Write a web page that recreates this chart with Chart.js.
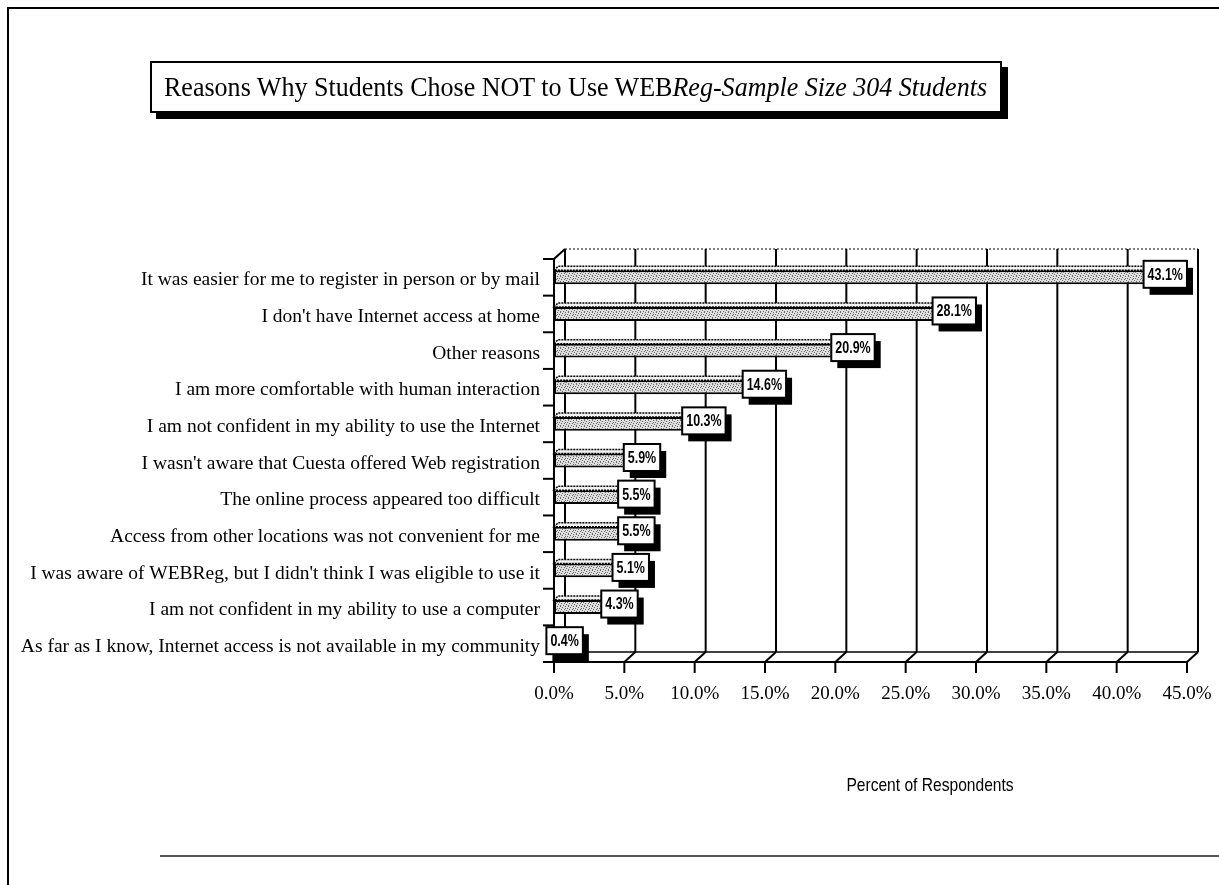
<!DOCTYPE html>
<html>
<head>
<meta charset="utf-8">
<script src="https://cdn.jsdelivr.net/npm/chart.js@4"></script>
<style>
  body { margin: 0; background: #fff; }
  #wrap { position: relative; width: 1219px; height: 885px; overflow: hidden; }
  #frameTop { position: absolute; left: 8px; top: 7px; width: 1211px; height: 0; border-top: 2px solid #000; }
  #frameLeft { position: absolute; left: 7px; top: 7px; width: 0; height: 878px; border-left: 2px solid #000; }
  #frameBottom { position: absolute; left: 160px; top: 855px; width: 1059px; height: 0; border-top: 2px solid #555; }
  #title {
    position: absolute; left: 150px; top: 61px; width: 848px; height: 48px;
    border: 2px solid #000; box-shadow: 6px 6px 0 #000; background: #fff;
    font-family: 'Liberation Serif', serif; font-size: 28px; line-height: 48px;
    text-align: center; white-space: nowrap;
  }
  #title span { display: inline-block; transform: scaleX(0.93); transform-origin: center; margin: 0 -40px; }
  canvas { position: absolute; left: 0; top: 0; }
</style>
</head>
<body>
<div id="wrap">
  <canvas id="chart" width="1219" height="885"></canvas>
  <div id="frameTop"></div>
  <div id="frameLeft"></div>
  <div id="frameBottom"></div>
  <div id="title"><span>Reasons Why Students Chose NOT to Use WEB<i>Reg-Sample Size 304 Students</i></span></div>
</div>
<script>
const reasons = [
	'It was easier for me to register in person or by mail',
	"I don't have Internet access at home",
	'Other reasons',
	'I am more comfortable with human interaction',
	'I am not confident in my ability to use the Internet',
	"I wasn't aware that Cuesta offered Web registration",
	'The online process appeared too difficult',
	'Access from other locations was not convenient for me',
	"I was aware of WEBReg, but I didn't think I was eligible to use it",
	'I am not confident in my ability to use a computer',
	'As far as I know, Internet access is not available in my community'
]
const percents = [43.1, 28.1, 20.9, 14.6, 10.3, 5.9, 5.5, 5.5, 5.1, 4.3, 0.4]
const axisMax = 45
const axisStep = 5
const axisTitle = 'Percent of Respondents'

const depthX = 11
const depthY = -10

// speckled grey fill like the old print pattern
function makePattern() {
	const c = document.createElement('canvas')
	c.width = 8
	c.height = 6
	const g = c.getContext('2d')
	g.fillStyle = '#dcdcdc'
	g.fillRect(0, 0, 8, 6)
	g.fillStyle = '#707070'
	const dots = [[0, 0], [2, 1], [5, 0], [7, 2], [1, 3], [4, 3], [6, 4], [3, 5], [0, 5], [5, 2]]
	dots.forEach(d => g.fillRect(d[0], d[1], 1, 1))
	return g.createPattern(c, 'repeat')
}

// draws condensed text by squeezing the canvas horizontally
function narrowText(ctx, text, x, y, squeeze) {
	ctx.save()
	ctx.translate(x, y)
	ctx.scale(squeeze, 1)
	ctx.fillText(text, 0, 0)
	ctx.restore()
}

const wallPlugin = {
	id: 'wall',
	beforeDatasetsDraw(chart) {
		const { ctx, chartArea, scales } = chart
		const x = scales.x
		const top = chartArea.top
		const bottom = chartArea.bottom
		ctx.save()
		ctx.strokeStyle = '#000'
		// back wall top edge (dotted)
		ctx.lineWidth = 1
		ctx.setLineDash([2, 2])
		ctx.beginPath()
		ctx.moveTo(x.getPixelForValue(0) + depthX, top + depthY)
		ctx.lineTo(x.getPixelForValue(axisMax) + depthX, top + depthY)
		ctx.stroke()
		ctx.setLineDash([])
		// back wall verticals
		ctx.lineWidth = 2
		for (let v = 0; v <= axisMax; v += axisStep) {
			const px = x.getPixelForValue(v)
			ctx.beginPath()
			ctx.moveTo(px + depthX, top + depthY)
			ctx.lineTo(px + depthX, bottom + depthY)
			ctx.stroke()
			// floor diagonals
			ctx.beginPath()
			ctx.moveTo(px, bottom)
			ctx.lineTo(px + depthX, bottom + depthY)
			ctx.stroke()
			// tick marks under the front edge
			ctx.beginPath()
			ctx.moveTo(px, bottom)
			ctx.lineTo(px, bottom + 11)
			ctx.stroke()
		}
		// floor back line and front line
		ctx.lineWidth = 1.5
		ctx.beginPath()
		ctx.moveTo(x.getPixelForValue(0) + depthX, bottom + depthY)
		ctx.lineTo(x.getPixelForValue(axisMax) + depthX, bottom + depthY)
		ctx.stroke()
		ctx.lineWidth = 2
		ctx.beginPath()
		ctx.moveTo(x.getPixelForValue(0), bottom)
		ctx.lineTo(x.getPixelForValue(axisMax), bottom)
		ctx.stroke()
		// left wall
		const lx = x.getPixelForValue(0)
		ctx.beginPath()
		ctx.moveTo(lx, bottom)
		ctx.lineTo(lx, top)
		ctx.lineTo(lx + depthX, top + depthY)
		ctx.stroke()
		// category tick stubs
		const band = (bottom - top) / reasons.length
		for (let i = 0; i <= reasons.length; i++) {
			const ty = top + band * i
			ctx.beginPath()
			ctx.moveTo(lx - 11, ty)
			ctx.lineTo(lx, ty)
			ctx.stroke()
		}
		ctx.restore()
	},
	afterDatasetsDraw(chart) {
		const { ctx } = chart
		const meta = chart.getDatasetMeta(0)
		ctx.save()
		// 3D top faces of the bars
		meta.data.forEach(bar => {
			const h = bar.height
			const yTop = bar.y - h / 2
			ctx.beginPath()
			ctx.moveTo(bar.base, yTop)
			ctx.lineTo(bar.base + 4, yTop - 4)
			ctx.lineTo(bar.x + 4, yTop - 4)
			ctx.lineTo(bar.x, yTop)
			ctx.closePath()
			ctx.fillStyle = '#f2f2f2'
			ctx.fill()
			ctx.lineWidth = 1.5
			ctx.strokeStyle = '#000'
			ctx.setLineDash([2, 1])
			ctx.stroke()
			ctx.setLineDash([])
		})
		// value boxes with drop shadow
		const squeeze = 0.78
		ctx.font = "bold 16px 'Liberation Sans', sans-serif"
		ctx.textAlign = 'center'
		ctx.textBaseline = 'middle'
		meta.data.forEach((bar, i) => {
			const text = percents[i].toFixed(1) + '%'
			const w = ctx.measureText(text).width * squeeze + 8
			const hgt = 27
			const cx = bar.x + 5
			const cy = bar.y - 3
			const left = cx - w / 2
			const top = cy - hgt / 2
			ctx.fillStyle = '#000'
			ctx.fillRect(left + 6, top + 7, w, hgt)
			ctx.fillStyle = '#fff'
			ctx.fillRect(left, top, w, hgt)
			ctx.lineWidth = 2
			ctx.strokeStyle = '#000'
			ctx.strokeRect(left, top, w, hgt)
			ctx.fillStyle = '#000'
			narrowText(ctx, text, cx, cy + 1, squeeze)
		})
		// axis title
		ctx.font = "19px 'Liberation Sans', sans-serif"
		narrowText(ctx, axisTitle, 930, 786, 0.82)
		ctx.restore()
	}
}

const ctx = document.getElementById('chart').getContext('2d')
const chart = new Chart(ctx, {
	type: 'bar',
	data: {
		labels: reasons,
		datasets: [
			{
				data: percents,
				backgroundColor: makePattern(),
				borderColor: '#000',
				borderWidth: 2,
				borderSkipped: false,
				categoryPercentage: 1,
				barPercentage: 0.38,
			},
		],
	},
	options: {
		indexAxis: 'y',
		responsive: false,
		devicePixelRatio: 1,
		animation: false,
		layout: {
			padding: { left: 0, top: 259, right: 32, bottom: 0 },
		},
		plugins: {
			legend: { display: false },
			tooltip: { enabled: false },
			title: { display: false },
		},
		scales: {
			x: {
				min: 0,
				max: axisMax,
				grid: { display: false, drawTicks: false },
				border: { display: false },
				ticks: {
					stepSize: axisStep,
					padding: 21,
					color: '#000',
					font: { family: "'Liberation Serif', serif", size: 19 },
					callback: v => v.toFixed(1) + '%',
				},
				afterFit: scale => {
					scale.height = 223
					scale.paddingLeft = 0
					scale.paddingRight = 0
				},
			},
			y: {
				grid: { display: false, drawTicks: false },
				border: { display: false },
				ticks: {
					autoSkip: false,
					padding: 14,
					labelOffset: 3,
					color: '#000',
					font: { family: "'Liberation Serif', serif", size: 19.5 },
				},
				afterFit: scale => {
					scale.width = 554
					scale.paddingTop = 0
					scale.paddingBottom = 0
				},
			},
		},
	},
	plugins: [wallPlugin],
})
</script>
</body>
</html>
